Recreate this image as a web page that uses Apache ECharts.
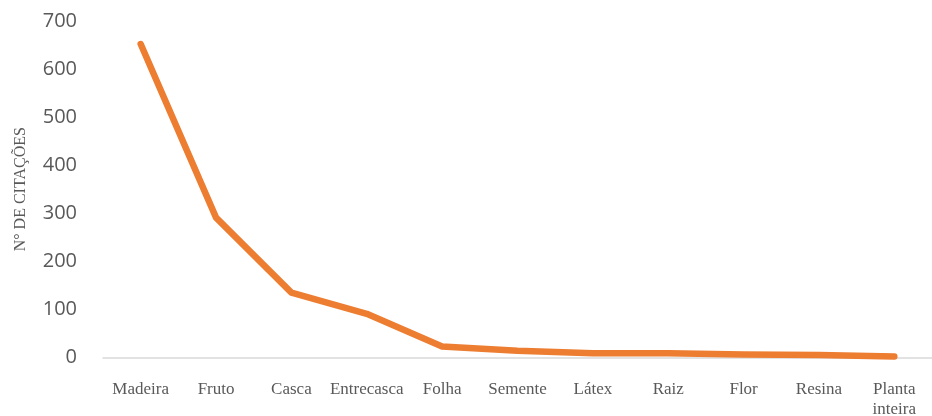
<!DOCTYPE html>
<html>
<head>
<meta charset="utf-8">
<script src="https://cdn.jsdelivr.net/npm/echarts@6/dist/echarts.min.js"></script>
<style>
  html, body { margin: 0; padding: 0; background: #fff; }
  #chart { width: 932px; height: 416px; }
</style>
</head>
<body>
<div id="chart"></div>
<script>
  var categories = ['Madeira', 'Fruto', 'Casca', 'Entrecasca', 'Folha', 'Semente', 'Látex', 'Raiz', 'Flor', 'Resina', 'Planta\ninteira'];
  var citacoes = [652, 291, 135, 91, 23, 14, 9, 9, 6, 5, 2];
  var yTicks = { min: 0, max: 700, interval: 100 };

  var chart = echarts.init(document.getElementById('chart'));
  chart.setOption({
    animation: false,
    grid: { left: 103, right: 0, top: 21, bottom: 58.5, outerBoundsMode: 'none', containLabel: false },
    xAxis: {
      type: 'category',
      data: categories,
      boundaryGap: true,
      axisLine: { show: true, lineStyle: { color: '#d9d9d9', width: 1.5 } },
      axisTick: { show: false },
      axisLabel: {
        color: '#595959',
        fontFamily: 'Liberation Serif',
        fontSize: 17,
        lineHeight: 20,
        margin: 22,
        interval: 0
      }
    },
    yAxis: {
      type: 'value',
      min: yTicks.min,
      max: yTicks.max,
      interval: yTicks.interval,
      name: 'N° DE CITAÇÕES',
      nameLocation: 'middle',
      nameGap: 74,
      nameTextStyle: { color: '#595959', fontFamily: 'Liberation Serif', fontSize: 16 },
      axisLine: { show: false },
      axisTick: { show: false },
      splitLine: { show: false },
      axisLabel: {
        color: '#595959',
        fontFamily: 'Open Sans',
        fontSize: 20,
        margin: 26
      }
    },
    series: [
      {
        type: 'line',
        data: citacoes,
        symbol: 'none',
        lineStyle: { color: '#ED7D31', width: 6.5, cap: 'round', join: 'round' }
      }
    ]
  });
</script>
</body>
</html>
